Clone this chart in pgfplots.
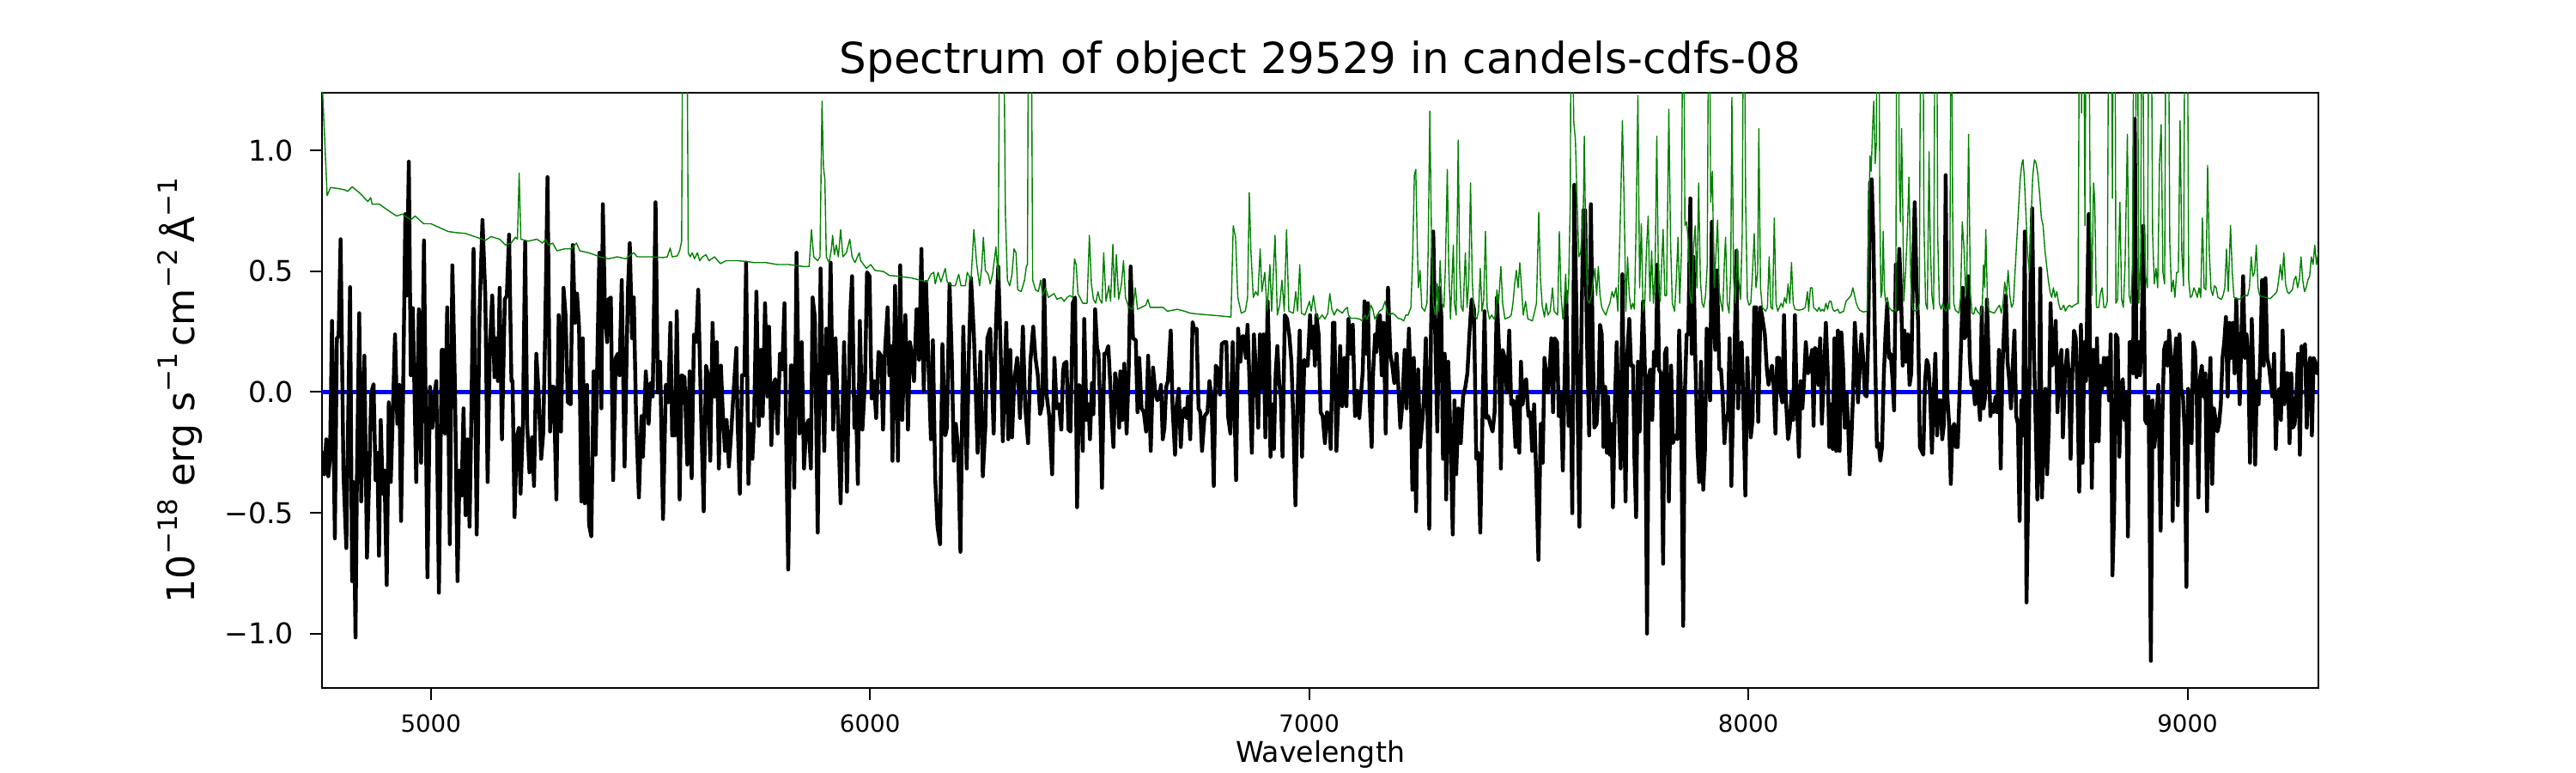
\documentclass[border=0pt]{standalone}
\usepackage{fontspec}
\setmainfont{DejaVu Sans}
\usepackage{pgfplots}
\pgfplotsset{compat=1.18}
\definecolor{mplgreen}{RGB}{0,128,0}
\definecolor{mplblue}{RGB}{0,0,255}
\newcommand\sups[1]{\raisebox{0.45em}{\fontsize{11.2}{12}\selectfont #1}}
\begin{document}
\begin{tikzpicture}
\path[use as bounding box] (0,0) rectangle (15in,4.5in);
\begin{axis}[
  at={(1.875in,0.495in)}, anchor=south west,
  width=11.625in, height=3.465in, scale only axis,
  xmin=4752.2, xmax=9298, ymin=-1.225, ymax=1.238,
  axis line style={line width=0.8pt},
  tick align=outside, major tick length=5.2pt,
  tick style={black, line width=0.8pt},
  xtick pos=bottom, ytick pos=left,
  xtick={5000,6000,7000,8000,9000}, xticklabels={5000,6000,7000,8000,9000},
  ytick={-1,-0.5,0,0.5,1}, yticklabels={−1.0,−0.5,0.0,0.5,1.0},
  minor tick num=0,
  xticklabel style={font=\fontsize{10}{12}\selectfont, inner sep=0pt, anchor=north, yshift=-5.9pt},
  yticklabel style={font=\fontsize{12}{14}\selectfont, inner sep=0pt, anchor=east, xshift=-6.5pt},
  title={Spectrum of object 29529 in candels-cdfs-08},
  every axis title/.style={at={(axis description cs:0.5,1)}, anchor=base, yshift=8.1pt, font=\fontsize{18}{22}\selectfont, inner sep=0pt},
  xlabel={Wavelength},
  every axis x label/.style={at={(axis description cs:0.5,0)}, anchor=base, yshift=-31.2pt, font=\fontsize{12}{14}\selectfont, inner sep=0pt},
  ylabel={10\sups{−18} erg s\sups{−1}\,cm\sups{−2}\,Å\sups{−1}},
  every axis y label/.style={at={(axis description cs:-0.0639,0.5)}, rotate=90, anchor=base, font=\fontsize{16}{19}\selectfont, inner sep=0pt},
]
\addplot[mplblue, line width=2pt] coordinates {(4752.2,0) (9298,0)};
\addplot[black, line width=1.6pt, line join=round] coordinates {
(4752.2,-0.244) (4757.4,-0.341) (4761.9,-0.196) (4766.5,-0.349) (4770.4,-0.277) (4775.0,0.294) (4781.5,-0.606) (4786.1,0.222) (4790.0,0.230) (4794.6,0.632) (4801.1,-0.341) (4807.6,-0.646) (4816.1,0.434) (4820.7,-0.783) (4823.9,-0.373) (4828.5,-1.016) (4831.8,-0.341) (4837.0,0.326) (4841.5,-0.453) (4848.7,0.150) (4854.6,-0.686) (4859.8,-0.341) (4864.4,-0.003) (4869.6,0.032) (4874.2,-0.365) (4878.1,-0.252) (4882.0,-0.678) (4885.9,-0.116) (4890.5,-0.421) (4894.4,-0.325) (4899.6,-0.799) (4904.2,-0.043) (4908.8,-0.373) (4912.0,-0.180) (4918.5,0.238) (4923.8,-0.132) (4928.3,0.029) (4932.2,-0.534) (4936.8,-0.019) (4942.0,0.736) (4945.3,0.399) (4949.9,0.953) (4954.4,0.069) (4959.0,0.347) (4966.8,-0.373) (4972.7,0.342) (4977.9,-0.293) (4984.4,0.627) (4992.3,-0.767) (4998.1,0.021) (5003.4,-0.148) (5008.6,-0.003) (5012.5,0.045) (5018.4,-0.831) (5024.9,0.174) (5027.5,0.174) (5032.1,-0.172) (5037.3,0.350) (5043.2,-0.630) (5049.0,0.524) (5054.9,0.029) (5060.8,-0.783) (5065.4,-0.325) (5069.9,-0.429) (5074.5,-0.068) (5079.1,-0.510) (5083.6,-0.196) (5088.2,-0.558) (5092.1,-0.116) (5097.3,0.592) (5104.5,-0.590) (5111.0,0.334) (5117.6,0.712) (5124.1,0.399) (5129.3,-0.373) (5134.5,0.190) (5139.8,0.399) (5145.0,0.061) (5148.9,0.222) (5152.8,0.045) (5156.7,0.431) (5161.9,-0.196) (5168.5,0.383) (5173.0,0.399) (5178.2,0.651) (5183.5,0.045) (5186.1,0.045) (5190.6,-0.518) (5195.9,-0.188) (5200.4,-0.148) (5204.3,-0.421) (5209.6,-0.140) (5214.8,0.621) (5219.3,-0.132) (5224.6,-0.333) (5230.4,-0.188) (5235.0,-0.389) (5240.2,0.158) (5245.4,-0.003) (5251.3,-0.277) (5255.9,-0.172) (5260.4,0.251) (5265.7,0.889) (5271.5,-0.164) (5276.1,0.021) (5280.0,0.021) (5285.9,-0.445) (5291.1,0.318) (5296.3,-0.164) (5302.2,0.431)
(5306.8,0.318) (5312.0,-0.043) (5318.5,-0.051) (5323.1,0.608) (5328.3,0.286) (5332.9,0.407) (5337.5,0.270) (5342.7,-0.453) (5346.0,0.222) (5350.5,-0.461) (5355.7,0.029) (5360.3,-0.550) (5365.5,-0.598) (5370.7,0.085) (5375.3,-0.260) (5378.6,0.085) (5383.8,0.576) (5388.4,-0.068) (5391.6,0.777) (5396.8,0.318) (5401.4,0.206) (5404.7,0.383) (5409.9,0.391) (5415.1,-0.365) (5421.0,0.141) (5425.6,0.158) (5429.5,0.069) (5434.7,0.463) (5441.2,-0.309) (5446.4,0.206) (5449.0,0.431) (5453.0,0.616) (5458.2,0.222) (5462.1,0.391) (5467.3,-0.100) (5473.8,-0.437) (5479.7,-0.100) (5483.0,-0.268) (5489.5,0.085) (5496.0,-0.132) (5499.9,0.037) (5505.2,-0.019) (5511.7,0.785) (5516.9,-0.003) (5522.1,0.125) (5528.7,-0.526) (5535.2,0.029) (5540.4,-0.043) (5545.6,0.286) (5549.5,-0.180) (5556.1,-0.180) (5560.0,0.334) (5566.5,-0.445) (5571.1,0.069) (5577.6,0.061) (5584.1,-0.301) (5589.3,0.085) (5593.9,-0.357) (5599.1,0.238) (5604.3,0.206) (5608.9,0.423) (5614.8,-0.051) (5621.3,-0.494) (5626.5,0.109) (5630.4,0.077) (5636.3,-0.285) (5641.5,0.286) (5646.1,-0.019) (5651.3,0.206) (5655.9,-0.317) (5660.5,0.109) (5664.4,-0.068) (5669.6,-0.244) (5673.5,-0.116) (5678.7,-0.309) (5684.0,-0.164) (5689.2,-0.003) (5695.7,0.182) (5698.3,-0.108) (5703.5,-0.421) (5708.7,0.069) (5714.0,0.069) (5717.9,0.535) (5723.1,-0.381) (5727.7,-0.132) (5732.2,-0.277) (5736.1,-0.116) (5741.4,0.415) (5746.6,-0.140) (5751.8,0.174) (5755.7,-0.100) (5761.0,0.367) (5766.2,-0.019) (5770.1,0.270) (5775.3,-0.220) (5779.9,0.029) (5784.4,0.053) (5789.7,-0.172) (5794.9,0.158) (5800.1,0.093) (5805.3,0.367) (5809.9,-0.293) (5813.8,-0.735) (5819.7,0.109) (5823.6,0.109) (5827.5,-0.397) (5832.7,0.576) (5839.2,-0.172) (5844.5,0.206) (5849.7,-0.317) (5854.9,-0.140) (5860.1,-0.116) (5865.3,-0.317) (5869.3,0.391)
(5874.4,0.310) (5880.9,-0.582) (5887.5,0.511) (5892.7,-0.019) (5895.9,-0.244) (5900.5,0.262) (5905.7,0.077) (5910.3,0.535) (5916.2,-0.156) (5921.4,0.222) (5926.6,-0.068) (5933.1,-0.461) (5941.0,0.206) (5947.5,-0.413) (5954.7,0.310) (5959.2,0.479) (5964.4,-0.148) (5967.7,-0.019) (5972.3,-0.381) (5976.8,0.294) (5982.7,-0.156) (5988.6,0.045) (5993.2,0.495) (5999.0,0.479) (6003.6,-0.027) (6008.8,0.045) (6014.0,-0.108) (6019.3,0.166) (6025.1,0.150) (6029.7,-0.156) (6034.3,0.174) (6040.1,0.350) (6044.1,0.069) (6048.0,0.190) (6051.2,-0.285) (6057.1,0.439) (6063.6,-0.285) (6068.8,0.524) (6073.4,-0.116) (6080.6,0.318) (6086.5,-0.156) (6091.0,0.206) (6094.9,0.158) (6100.2,0.045) (6106.0,0.342) (6111.9,0.133) (6117.1,0.592) (6122.4,0.005) (6127.6,0.455) (6134.1,0.061) (6138.7,-0.196) (6143.2,0.214) (6148.5,-0.357) (6153.7,-0.558) (6159.5,-0.630) (6164.8,0.198) (6171.3,-0.180) (6175.2,-0.148) (6181.1,0.447) (6186.3,0.141) (6190.9,-0.285) (6195.4,-0.132) (6200.7,-0.236) (6205.9,-0.662) (6212.4,0.270) (6220.2,-0.317) (6225.4,0.174) (6230.0,0.471) (6236.5,0.238) (6241.1,-0.019) (6245.0,-0.252) (6251.5,0.166) (6256.8,-0.349) (6262.6,-0.148) (6267.2,0.222) (6273.7,0.262) (6281.6,-0.172) (6286.8,0.278) (6292.0,0.519) (6297.2,0.190) (6302.4,-0.204) (6310.3,0.286) (6314.8,-0.196) (6319.4,0.174) (6323.3,-0.188) (6328.5,0.045) (6335.1,0.141) (6341.6,-0.108) (6348.1,0.270) (6353.3,-0.059) (6359.9,-0.212) (6365.1,0.125) (6371.6,0.270) (6376.8,0.141) (6382.1,0.069) (6387.3,-0.092) (6392.5,-0.051) (6396.4,0.463) (6401.6,-0.003) (6408.1,-0.100) (6414.7,-0.341) (6419.9,0.141) (6425.1,-0.068) (6430.3,-0.051) (6435.6,-0.156) (6439.5,0.085)
(6442.1,0.117) (6447.3,0.125) (6451.9,-0.156) (6456.5,-0.164) (6461.7,0.367) (6466.9,0.391) (6471.5,-0.477) (6476.0,0.029) (6480.0,0.013) (6484.5,-0.244) (6487.8,0.302) (6493.0,-0.116) (6497.6,-0.051) (6500.8,-0.196) (6505.4,0.037) (6508.7,-0.092) (6512.6,0.342) (6517.1,0.182) (6520.4,0.158) (6524.3,-0.084) (6528.2,-0.397) (6533.5,0.158) (6537.4,0.158) (6542.6,0.190) (6546.5,0.053) (6550.4,-0.108) (6554.3,-0.228) (6558.2,0.077) (6563.5,0.013) (6567.4,-0.148) (6570.0,0.085) (6574.6,-0.116) (6579.1,0.117) (6584.3,-0.172) (6588.9,0.077) (6593.5,0.519) (6598.7,0.222) (6605.2,0.214) (6609.1,-0.084) (6613.1,0.141) (6618.3,-0.068) (6623.5,-0.084) (6628.7,-0.164) (6633.3,0.150) (6639.2,-0.244) (6644.4,0.101) (6649.6,-0.003) (6654.2,-0.035) (6658.7,-0.019) (6662.6,0.029) (6666.6,-0.196) (6670.5,-0.148) (6674.4,0.021) (6678.3,0.045) (6684.8,0.254) (6689.0,-0.068) (6694.6,-0.260) (6698.5,-0.051) (6703.1,0.013) (6707.7,-0.228) (6711.6,-0.084) (6716.2,-0.068) (6720.7,-0.108) (6724.0,-0.019) (6729.2,-0.196) (6734.4,0.289) (6739.0,0.254) (6743.6,0.262) (6748.1,-0.068) (6752.0,-0.084) (6756.0,-0.244) (6761.8,-0.100) (6768.4,-0.084) (6772.9,0.045) (6777.5,-0.019) (6782.7,-0.389) (6787.3,0.109) (6792.5,0.093) (6797.1,-0.011) (6801.0,0.198) (6806.2,0.206) (6811.4,0.206) (6815.3,-0.100) (6820.6,-0.172) (6825.8,0.206) (6830.3,-0.092) (6833.6,-0.365) (6838.2,0.262) (6843.4,0.125) (6848.0,0.230) (6851.9,0.230) (6855.8,0.141) (6859.7,0.278) (6863.6,0.069) (6869.5,-0.252) (6874.1,0.238) (6879.3,0.069) (6883.9,-0.148) (6887.8,0.238) (6892.3,0.016) (6896.2,0.238) (6900.2,-0.188) (6905.4,0.375) (6908.6,0.158) (6911.9,-0.268) (6915.8,-0.051) (6919.7,-0.236) (6923.6,0.077) (6927.5,0.190) (6931.5,0.045) (6935.4,-0.019) (6939.3,-0.268) (6944.5,0.318) (6949.7,0.302) (6955.0,0.230) (6959.5,0.125) (6964.1,-0.132) (6968.7,-0.469) (6973.2,-0.051) (6978.5,0.254) (6983.7,-0.268) (6988.9,0.133) (6993.5,0.109) (6996.7,0.109) (7002.0,0.318) (7005.9,0.182)
(7009.8,0.270) (7013.1,0.109) (7016.3,0.318) (7021.5,0.238) (7026.1,-0.084) (7030.7,-0.100) (7035.9,-0.212) (7040.5,-0.084) (7045.7,-0.092) (7049.0,-0.236) (7054.2,0.286) (7057.4,0.286) (7062.0,-0.244) (7067.2,-0.003) (7070.5,0.190) (7075.1,-0.059) (7080.3,0.141) (7084.8,-0.059) (7089.4,0.302) (7094.6,0.158) (7099.2,0.278) (7104.4,-0.100) (7109.0,0.005) (7114.2,-0.108) (7117.5,-0.019) (7122.0,0.085) (7125.9,0.375) (7130.5,0.158) (7133.8,0.367) (7137.7,-0.035) (7142.3,-0.228) (7145.5,0.077) (7150.1,0.238) (7153.4,0.166) (7156.6,0.302) (7161.2,0.318) (7165.1,0.069) (7169.7,0.286) (7174.2,-0.172) (7179.5,0.431) (7184.7,0.158) (7189.2,0.109) (7193.8,0.037) (7199.0,0.158) (7202.9,0.029) (7207.5,-0.148) (7212.1,-0.051) (7217.3,0.174) (7221.9,-0.068) (7227.1,0.262) (7231.7,-0.019) (7234.9,-0.405) (7238.2,0.141) (7243.4,-0.494) (7248.0,0.093) (7252.5,-0.228) (7257.8,-0.116) (7261.0,-0.035) (7265.6,0.222) (7268.8,-0.027) (7273.4,-0.566) (7277.3,0.254) (7282.5,0.664) (7287.1,0.230) (7291.7,-0.164) (7296.9,0.431) (7300.8,0.318) (7304.7,-0.277) (7308.6,0.158) (7311.9,-0.445) (7316.5,0.125) (7321.7,-0.180) (7326.9,-0.590) (7330.8,-0.035) (7334.7,-0.341) (7340.0,-0.068) (7345.2,-0.212) (7350.4,-0.019) (7355.6,0.021) (7360.2,0.077) (7365.4,0.254) (7370.0,0.383) (7375.2,0.342) (7380.4,-0.277) (7385.0,-0.252) (7389.6,-0.582) (7394.8,-0.084) (7399.3,0.334) (7403.3,-0.108) (7407.8,-0.100) (7412.4,-0.132) (7417.6,-0.164) (7422.2,-0.084) (7427.4,0.391) (7432.0,0.190) (7436.5,-0.317) (7440.5,0.174) (7445.0,0.141) (7450.2,-0.003) (7455.5,0.254) (7460.0,-0.051) (7464.6,-0.035) (7469.8,-0.228) (7474.4,-0.019) (7478.3,-0.252) (7482.2,0.125) (7486.1,-0.051) (7490.0,0.029) (7494.0,0.053) (7499.2,-0.100) (7503.7,-0.084) (7507.7,-0.244) (7512.2,-0.051) (7516.8,-0.341) (7522.0,-0.695) (7527.2,-0.132) (7531.8,-0.293) (7535.7,0.141) (7539.6,0.077) (7543.5,-0.003) (7547.5,0.085) (7551.4,0.222) (7555.3,-0.084) (7559.2,0.222) (7564.4,0.206) (7568.4,-0.100) (7572.9,-0.003)
(7577.5,-0.325) (7580.8,-0.019) (7585.3,0.415) (7590.6,-0.140) (7595.8,-0.019) (7599.0,-0.502) (7603.6,0.857) (7608.8,0.302) (7611.4,-0.100) (7615.3,-0.558) (7619.9,0.270) (7624.5,0.752) (7628.4,0.752) (7632.3,0.238) (7637.5,-0.180) (7641.4,0.777) (7645.4,0.222) (7649.3,-0.148) (7654.5,-0.132) (7659.1,0.029) (7662.3,0.278) (7666.2,0.238) (7670.2,-0.228) (7674.1,0.021) (7678.0,-0.252) (7680.6,-0.019) (7684.5,-0.260) (7688.4,-0.132) (7691.7,-0.477) (7696.3,-0.035) (7700.2,0.206) (7704.7,-0.068) (7709.3,-0.317) (7713.2,0.487) (7716.5,-0.035) (7720.4,-0.453) (7724.3,0.158) (7728.9,0.302) (7732.8,0.109) (7737.4,0.109) (7740.6,-0.277) (7744.5,-0.518) (7748.5,0.125) (7752.4,-0.164) (7756.3,0.133) (7760.2,0.375) (7764.8,0.069) (7769.3,-1.000) (7773.3,0.061) (7776.5,0.093) (7781.1,-0.116) (7785.0,0.166) (7789.6,0.109) (7792.8,0.527) (7796.7,0.093) (7800.7,0.077) (7805.9,-0.711) (7809.8,0.158) (7813.7,0.182) (7818.9,-0.453) (7824.1,0.109) (7828.1,-0.212) (7833.3,-0.180) (7838.5,-0.196) (7842.4,0.254) (7846.3,0.013) (7851.6,-0.968) (7855.5,-0.003) (7859.4,0.238) (7863.3,0.238) (7867.9,0.801) (7871.1,0.158) (7875.0,0.559) (7879.0,0.158) (7884.2,-0.236) (7888.1,-0.373) (7892.0,0.125) (7897.2,-0.405) (7901.1,-0.244) (7905.1,0.262) (7909.0,0.109) (7912.9,-0.035) (7916.8,0.704) (7920.7,0.318) (7924.6,0.174) (7928.5,0.503) (7933.8,0.093) (7937.7,0.093) (7941.6,-0.019) (7945.5,-0.212) (7949.4,-0.100) (7953.3,-0.116) (7957.3,0.222) (7961.2,-0.389) (7965.1,-0.068) (7969.0,0.206) (7972.9,0.584) (7976.8,-0.068) (7980.7,0.190) (7984.7,0.206) (7988.6,-0.051) (7993.1,-0.429) (7997.7,0.141) (8001.6,-0.051) (8005.5,-0.188) (8009.5,-0.116) (8013.4,0.350) (8017.9,0.350) (8022.5,-0.124) (8027.7,0.350) (8032.3,0.302) (8037.5,0.238) (8042.1,0.093) (8046.0,0.029) (8049.9,0.077) (8053.8,0.109) (8057.7,0.021) (8061.7,-0.172) (8065.6,0.141) (8069.5,0.141) (8073.4,-0.003) (8077.3,-0.043) (8081.2,0.318) (8085.2,-0.019) (8090.4,-0.196) (8094.3,-0.148) (8098.2,-0.003) (8102.1,-0.116) (8106.0,0.318) (8109.9,-0.019) (8115.2,-0.268) (8119.1,0.045) (8123.0,-0.068) (8126.9,0.045) (8130.8,0.206) (8136.1,0.077) (8140.0,0.109)
(8145.2,0.174) (8148.5,-0.140) (8151.7,0.182) (8155.6,0.174) (8159.6,0.029) (8163.5,0.222) (8167.4,-0.132) (8171.3,0.045) (8176.5,0.286) (8181.1,0.061) (8184.4,-0.228) (8188.9,-0.051) (8192.2,-0.236) (8196.1,0.222) (8200.0,-0.244) (8203.9,0.254) (8207.8,-0.244) (8211.8,0.246) (8215.7,0.109) (8219.6,-0.148) (8223.5,-0.003) (8227.4,-0.148) (8230.7,-0.341) (8234.6,-0.196) (8238.5,-0.003) (8242.4,0.286) (8246.3,0.141) (8249.6,-0.043) (8253.5,0.093) (8257.4,0.238) (8261.3,0.141) (8265.3,-0.011) (8269.2,-0.019) (8273.1,0.238) (8277.0,0.865) (8280.9,0.881) (8284.8,0.624) (8288.8,0.141) (8292.7,-0.228) (8296.6,-0.212) (8300.5,-0.285) (8304.4,-0.228) (8308.3,0.061) (8312.2,0.238) (8316.2,0.367) (8320.1,0.141) (8324.0,0.158) (8327.9,0.061) (8331.8,-0.076) (8335.7,0.527) (8339.6,0.342) (8343.6,0.592) (8347.5,0.415) (8351.4,0.109) (8355.3,0.254) (8359.2,0.125) (8363.1,0.238) (8367.1,0.029) (8371.0,0.077) (8374.9,0.495) (8378.8,0.785) (8382.7,0.463) (8386.6,0.286) (8390.5,-0.228) (8394.5,-0.244) (8398.4,-0.260) (8402.3,0.045) (8406.2,0.133) (8410.1,0.109) (8414.0,-0.019) (8418.0,-0.252) (8421.9,-0.003) (8425.8,0.158) (8429.7,-0.180) (8433.6,-0.035) (8437.5,-0.035) (8441.4,-0.196) (8445.4,-0.132) (8449.3,0.897) (8453.2,-0.019) (8457.1,-0.132) (8461.0,-0.381) (8464.9,-0.148) (8468.8,-0.132) (8472.8,-0.228) (8476.7,-0.228) (8480.6,-0.019) (8484.5,0.206) (8488.4,0.431) (8492.3,0.222) (8496.3,0.238) (8500.2,0.479) (8504.1,0.141) (8508.0,0.029) (8511.9,0.045) (8515.8,-0.051) (8519.7,0.045) (8523.7,-0.019) (8527.6,-0.116) (8531.5,0.350) (8535.4,-0.068) (8539.3,-0.019) (8543.2,0.383) (8547.1,0.141) (8551.1,-0.100) (8555.0,-0.051) (8558.9,-0.084) (8562.8,-0.019) (8566.7,-0.084) (8570.6,0.174) (8574.6,-0.317) (8578.5,0.093) (8582.4,0.270) (8586.3,0.399) (8590.2,0.125) (8594.1,0.045) (8598.0,-0.068) (8602.0,0.109) (8605.9,0.254) (8609.8,-0.100) (8613.7,-0.132) (8617.6,-0.534) (8621.5,-0.035) (8625.4,-0.180) (8629.4,0.664) (8633.3,-0.871) (8638.5,-0.277) (8642.4,0.463) (8646.3,0.760) (8650.2,0.174) (8654.2,-0.132) (8658.1,-0.445) (8662.0,-0.003) (8664.6,0.511) (8668.5,-0.437) (8672.4,-0.180) (8676.3,0.013) (8680.3,-0.341) (8684.2,-0.132) (8688.1,0.367) (8692.0,0.109) (8695.9,0.141) (8699.8,0.294) (8703.8,-0.084) (8707.7,0.109)
(8712.9,0.174) (8716.2,-0.188) (8720.7,0.061) (8725.9,0.174) (8729.9,0.061) (8733.8,-0.277) (8737.7,0.077) (8741.6,0.254) (8745.5,0.222) (8749.4,-0.003) (8753.4,-0.413) (8757.3,0.278) (8761.2,-0.293) (8765.1,0.206) (8769.0,0.045) (8771.6,0.367) (8774.9,0.736) (8778.2,0.141) (8782.1,-0.397) (8786.0,0.174) (8789.9,-0.204) (8793.8,0.222) (8797.7,-0.204) (8801.6,0.109) (8805.6,0.013) (8809.5,0.141) (8813.4,0.029) (8817.3,0.141) (8821.2,-0.035) (8825.1,0.238) (8829.0,-0.759) (8833.0,-0.486) (8836.9,0.238) (8840.8,0.222) (8844.7,-0.268) (8848.6,0.013) (8852.5,0.053) (8856.5,-0.116) (8860.4,-0.003) (8864.3,-0.598) (8868.2,0.206) (8872.1,0.206) (8876.0,0.077) (8879.9,1.130) (8883.9,0.061) (8887.8,0.206) (8891.7,0.069) (8895.6,0.238) (8899.5,0.688) (8903.4,-0.116) (8907.3,-0.132) (8911.3,-0.019) (8916.5,-1.113) (8920.4,-0.035) (8924.3,-0.228) (8928.2,-0.148) (8933.4,0.029) (8938.7,-0.574) (8942.6,-0.116) (8946.5,0.174) (8950.4,0.206) (8954.3,0.109) (8958.2,0.254) (8962.2,0.141) (8966.1,-0.534) (8970.0,0.109) (8973.9,0.222) (8977.8,-0.469) (8981.7,0.238) (8985.6,0.013) (8989.6,-0.019) (8993.5,-0.164) (8997.4,-0.807) (9001.3,0.013) (9005.2,-0.051) (9009.1,-0.212) (9013.1,0.206) (9017.0,0.174) (9020.9,-0.019) (9024.8,-0.437) (9028.7,0.061) (9032.6,0.109) (9036.5,-0.019) (9040.5,0.077) (9044.4,-0.494) (9048.3,-0.019) (9052.2,0.141) (9056.1,-0.381) (9060.0,-0.068) (9064.0,-0.116) (9067.9,-0.164) (9071.8,-0.132) (9075.7,-0.051) (9079.6,0.141) (9083.5,0.206) (9087.4,0.310) (9091.4,-0.019) (9095.3,0.286) (9099.2,0.141) (9103.1,0.286) (9107.0,0.077) (9110.9,0.383) (9114.8,0.158) (9118.8,-0.051) (9122.7,0.238) (9126.6,0.479) (9130.5,0.141) (9134.4,0.238) (9138.3,0.141) (9142.2,-0.293) (9146.2,0.302) (9150.1,0.045) (9154.0,-0.301) (9157.9,0.045) (9161.8,-0.051) (9165.7,0.141) (9169.7,0.463) (9173.6,0.109) (9177.5,0.471) (9181.4,0.141) (9185.3,0.109) (9189.2,0.045) (9193.1,-0.019) (9197.1,0.158) (9201.0,-0.236) (9204.9,-0.019) (9208.8,0.013) (9212.7,-0.116) (9216.6,0.254) (9220.6,-0.051) (9224.5,0.077) (9228.4,0.077) (9232.3,-0.212) (9236.2,0.077) (9240.1,-0.148) (9244.0,-0.132) (9248.0,-0.003) (9251.9,0.158) (9255.8,-0.260) (9259.7,0.190) (9263.6,0.158) (9267.5,0.198) (9271.5,-0.148) (9275.4,0.093) (9279.3,0.141) (9283.2,-0.180) (9287.1,0.141) (9291.0,0.125) (9294.9,0.077) (9298.2,0.085)
};
\addplot[mplgreen, line width=0.5pt, line join=round] coordinates {
(4752.2,1.30) (4763.9,0.812) (4771.7,0.846) (4791.3,0.841) (4804.4,0.836) (4810.9,0.830) (4820.7,0.849) (4837.0,0.825) (4856.6,0.788) (4863.1,0.804) (4866.3,0.777) (4882.7,0.777) (4902.2,0.752) (4921.8,0.728) (4934.9,0.736) (4954.4,0.712) (4964.2,0.728) (4983.8,0.696) (5000.1,0.696) (5019.7,0.680) (5039.2,0.664) (5058.8,0.659) (5078.4,0.656) (5104.5,0.640) (5124.1,0.627) (5137.1,0.643) (5156.7,0.632) (5169.7,0.608) (5182.8,0.616) (5192.6,0.640) (5197.2,0.632) (5201.1,0.905) (5205.0,0.632) (5222.0,0.624) (5241.5,0.632) (5254.6,0.616) (5261.1,0.632) (5267.6,0.608) (5277.4,0.616) (5287.2,0.584) (5304.2,0.592)
(5319.9,0.592) (5331.6,0.616) (5339.4,0.584) (5359.0,0.576) (5372.1,0.568) (5385.1,0.559) (5404.7,0.551) (5424.3,0.559) (5443.8,0.551) (5462.1,0.576) (5469.9,0.559) (5502.6,0.559) (5528.7,0.556) (5538.4,0.559) (5545.0,0.595) (5549.5,0.559) (5561.3,0.563) (5566.5,0.584) (5571.1,0.624) (5574.3,2.0) (5582.2,2.0) (5586.1,0.576) (5590.6,0.559) (5595.2,0.576) (5600.4,0.551) (5607.0,0.576) (5612.2,0.543) (5618.7,0.559) (5626.5,0.568) (5633.1,0.543) (5646.1,0.559) (5659.2,0.531) (5672.2,0.543) (5698.3,0.543) (5717.9,0.540) (5737.5,0.535) (5763.6,0.535) (5789.7,0.527) (5815.8,0.527) (5848.4,0.519) (5861.4,0.519) (5866.7,0.672) (5871.9,0.559)
(5880.9,0.543) (5886.1,0.559) (5890.7,1.203) (5894.0,0.929) (5897.2,0.881) (5900.5,0.559) (5907.0,0.535) (5912.2,0.592) (5914.9,0.648) (5918.8,0.568) (5923.3,0.608) (5927.9,0.559) (5933.1,0.672) (5938.3,0.559) (5946.2,0.576) (5954.0,0.632) (5959.2,0.559) (5965.8,0.535) (5975.5,0.576) (5978.8,0.543) (5991.9,0.511) (6001.6,0.527) (6011.4,0.503) (6031.0,0.498) (6044.1,0.482) (6063.6,0.479) (6096.3,0.471) (6112.6,0.463) (6130.2,0.455) (6138.7,0.487) (6145.2,0.495) (6148.5,0.447) (6155.0,0.495) (6161.5,0.455) (6171.3,0.511) (6175.9,0.455) (6187.6,0.439) (6194.1,0.439) (6202.0,0.487) (6207.2,0.439) (6217.0,0.439) (6221.5,0.495) (6230.0,0.463) (6236.5,0.672) (6243.1,0.527) (6249.6,0.439) (6254.2,0.511) (6258.1,0.640) (6262.6,0.503) (6269.2,0.487) (6273.7,0.447) (6279.0,0.487) (6286.8,0.600) (6292.0,0.463) (6295.9,2.0) (6302.4,2.0) (6308.3,0.736) (6312.9,0.463) (6318.1,0.439) (6323.3,0.487) (6327.9,0.592) (6332.5,0.576) (6336.4,0.423) (6344.2,0.415) (6352.0,0.463) (6355.9,0.519) (6358.6,0.527) (6361.2,2.0) (6366.4,2.0) (6370.3,0.463) (6376.8,0.423) (6383.4,0.415) (6388.6,0.463) (6393.1,0.399) (6399.7,0.431) (6406.2,0.391) (6412.7,0.399) (6419.2,0.407) (6425.8,0.383) (6435.6,0.391)
(6442.1,0.375) (6448.6,0.391) (6455.2,0.399) (6461.7,0.391) (6465.6,0.551) (6469.5,0.527) (6473.4,0.407) (6478.0,0.391) (6484.5,0.367) (6494.3,0.367) (6499.5,0.648) (6504.1,0.447) (6508.7,0.383) (6513.9,0.367) (6519.1,0.415) (6523.0,0.383) (6528.2,0.367) (6532.1,0.576) (6537.4,0.375) (6543.9,0.439) (6547.8,0.375) (6553.0,0.611) (6556.9,0.391) (6560.9,0.568) (6566.1,0.383) (6572.6,0.447) (6577.2,0.543) (6581.7,0.391) (6588.9,0.350) (6598.7,0.342) (6603.9,0.431) (6609.1,0.342) (6628.1,0.359) (6632.6,0.383) (6637.9,0.350) (6667.2,0.350) (6677.0,0.334) (6699.8,0.342) (6716.2,0.334) (6729.2,0.326) (6748.8,0.322) (6774.9,0.318) (6794.5,0.315) (6821.9,0.310) (6827.1,0.688) (6832.3,0.640) (6837.5,0.391) (6845.4,0.326) (6854.5,0.334) (6859.7,0.391) (6863.6,0.825) (6867.5,0.576) (6872.8,0.391) (6878.0,0.415) (6883.2,0.399) (6888.4,0.592) (6892.3,0.415) (6898.9,0.495) (6904.1,0.334) (6910.6,0.527) (6914.5,0.334) (6922.3,0.648) (6927.5,0.318) (6932.8,0.359) (6938.0,0.463) (6943.2,0.334) (6948.4,0.672) (6953.7,0.334) (6964.1,0.326) (6969.3,0.415) (6973.6,0.334) (6978.5,0.527) (6982.4,0.326) (6990.2,0.318) (7000.7,0.375) (7004.6,0.334)
(7009.8,0.399) (7016.3,0.318) (7022.9,0.302) (7029.4,0.318) (7035.9,0.302) (7042.4,0.326) (7047.0,0.407) (7051.6,0.342) (7056.8,0.318) (7063.3,0.342) (7069.8,0.334) (7075.1,0.326) (7081.6,0.342) (7086.8,0.350) (7089.4,0.318) (7094.6,0.305) (7104.4,0.305) (7114.2,0.302) (7120.7,0.294) (7127.3,0.318) (7131.2,0.302) (7135.7,0.318) (7140.3,0.359) (7144.9,0.342) (7149.4,0.302) (7154.7,0.318) (7159.9,0.334) (7166.4,0.342) (7172.9,0.375) (7178.1,0.326) (7183.4,0.318) (7189.2,0.326) (7195.8,0.318) (7202.3,0.305) (7208.8,0.302) (7215.3,0.294) (7219.9,0.318) (7225.1,0.318) (7231.7,0.350) (7235.6,0.559) (7239.5,0.897) (7242.7,0.921) (7246.0,0.624) (7248.6,0.431) (7252.5,0.503) (7256.4,0.350) (7263.0,0.334) (7268.2,0.367) (7270.8,0.576) (7274.7,1.162) (7278.6,0.624) (7282.5,0.367) (7287.1,0.318) (7291.7,0.447) (7294.3,0.334) (7298.2,0.543) (7302.1,0.367) (7306.7,0.350) (7310.0,0.511) (7314.5,0.921) (7317.8,0.511) (7321.7,0.302) (7328.2,0.608) (7330.8,0.367) (7334.7,0.318) (7339.3,1.042) (7342.6,0.511) (7346.5,0.350) (7350.4,0.334) (7355.6,0.576) (7359.5,0.350) (7363.5,0.463) (7367.4,0.865) (7371.3,0.463) (7375.2,0.318) (7381.7,0.302) (7385.6,0.334) (7389.6,0.511) (7393.5,0.334) (7397.4,0.383) (7401.3,0.664) (7405.2,0.350) (7410.4,0.302) (7415.7,0.318) (7420.9,0.302) (7424.8,0.318) (7427.4,0.423) (7431.3,0.367) (7436.5,0.519) (7440.5,0.367) (7445.7,0.302) (7456.1,0.310) (7460.0,0.318) (7464.0,0.367) (7467.9,0.447) (7471.8,0.503) (7475.7,0.431) (7479.6,0.535) (7483.5,0.431) (7487.4,0.318) (7492.7,0.375) (7497.9,0.302) (7508.3,0.294) (7513.5,0.334) (7517.5,0.367) (7522.7,0.744) (7526.6,0.471) (7530.5,0.359) (7535.7,0.310) (7539.6,0.367) (7543.5,0.318) (7548.8,0.334) (7554.0,0.431) (7557.9,0.334) (7565.7,0.318) (7569.6,0.664) (7573.6,0.399)
(7577.5,0.302) (7580.8,0.367) (7584.0,0.487) (7586.6,0.367) (7590.6,0.431) (7594.5,0.785) (7597.1,2.0) (7602.3,1.122) (7606.2,1.042) (7610.1,0.785) (7614.0,0.559) (7618.0,0.576) (7621.9,0.672) (7624.5,0.785) (7626.4,1.058) (7629.7,0.624) (7633.6,0.383) (7637.5,0.367) (7642.8,0.399) (7646.7,0.463) (7650.6,0.511) (7654.5,0.399) (7658.4,0.519) (7662.3,0.399) (7666.2,0.350) (7670.2,0.334) (7675.4,0.318) (7679.3,0.342) (7684.5,0.367) (7689.7,0.415) (7693.6,0.391) (7698.9,0.431) (7702.8,0.334) (7705.4,0.511) (7709.3,0.785) (7713.2,1.122) (7717.1,0.785) (7721.1,0.334) (7725.0,0.559) (7728.9,0.399) (7732.8,0.342) (7736.7,0.367) (7740.6,0.342) (7744.5,0.704) (7748.5,1.227) (7752.4,0.431) (7756.3,0.696) (7760.2,0.334) (7764.1,0.367) (7768.0,0.592) (7771.9,0.728) (7775.9,0.375) (7779.8,0.584) (7783.7,0.367) (7787.6,0.495) (7791.5,1.058) (7795.4,0.431) (7799.4,0.375) (7803.3,0.559) (7805.9,0.672) (7809.8,0.399) (7813.7,0.399) (7818.9,1.170) (7822.8,0.624) (7826.8,0.367) (7832.0,0.334) (7835.9,0.463) (7839.8,0.640) (7843.7,0.367) (7847.6,0.576) (7851.6,2.0) (7855.5,0.688) (7859.4,0.704) (7863.3,0.624) (7867.2,0.399) (7871.1,0.367) (7875.0,0.592) (7879.0,0.688) (7882.9,0.431) (7886.8,0.865) (7890.7,0.463) (7894.6,0.367) (7898.5,0.350) (7902.5,0.399) (7906.4,0.527) (7910.3,2.0) (7914.2,0.785) (7918.1,0.913) (7922.0,0.431) (7925.9,0.559) (7929.9,0.712) (7933.8,0.415) (7937.7,0.367) (7941.6,0.334) (7945.5,0.543) (7948.1,0.640) (7952.0,0.367) (7956.0,0.326) (7959.9,0.495) (7962.5,1.219) (7966.4,0.463) (7970.3,0.367) (7974.2,0.592) (7978.1,0.463) (7982.1,0.383) (7986.0,0.656) (7989.9,2.0) (7993.8,0.785) (7997.7,0.383) (8001.6,0.359) (8005.5,0.367) (8009.5,0.495) (8013.4,0.656) (8017.3,0.431) (8021.2,0.495) (8023.8,1.090) (8027.7,0.431) (8031.6,0.350) (8039.5,0.334) (8043.4,0.350) (8047.3,0.559) (8051.2,0.350) (8055.1,0.342) (8059.0,0.720) (8063.0,0.367) (8066.9,0.334) (8074.7,0.367) (8078.6,0.350) (8082.5,0.391) (8086.5,0.367) (8090.4,0.447) (8094.3,0.367) (8098.2,0.535) (8102.1,0.367) (8106.0,0.342) (8113.9,0.338) (8124.3,0.342) (8129.5,0.350) (8134.7,0.415) (8137.4,0.334) (8141.3,0.431)
(8145.2,0.431) (8148.5,0.350) (8153.0,0.342) (8156.9,0.334) (8160.9,0.350) (8164.8,0.334) (8168.7,0.342) (8172.6,0.334) (8176.5,0.367) (8180.4,0.342) (8184.4,0.375) (8188.3,0.375) (8192.2,0.342) (8196.1,0.334) (8203.9,0.342) (8207.8,0.326) (8217.0,0.334) (8222.2,0.375) (8226.1,0.383) (8230.0,0.391) (8233.9,0.399) (8237.9,0.431) (8241.8,0.399) (8245.7,0.367) (8249.6,0.350) (8253.5,0.338) (8261.3,0.331) (8270.5,0.334) (8273.1,0.624) (8277.0,0.977) (8279.6,0.913) (8283.5,1.122) (8285.5,1.203) (8288.8,0.945) (8291.4,1.026) (8294.0,2.0) (8296.6,2.0) (8299.2,0.785) (8301.8,0.391) (8304.4,0.415) (8307.0,0.664) (8309.6,0.431) (8312.2,0.375) (8316.2,0.391) (8320.1,0.350) (8327.9,0.334) (8331.8,0.342) (8335.7,0.334) (8338.3,2.0) (8340.9,2.0) (8343.6,0.881) (8346.2,0.704) (8348.8,1.090) (8351.4,0.785) (8354.0,0.375) (8357.9,0.495) (8361.8,0.656) (8365.7,0.889) (8369.7,0.463) (8373.6,0.342) (8381.4,0.334) (8385.3,0.342) (8389.2,0.367) (8393.2,2.0) (8397.1,2.0) (8399.7,0.704) (8403.6,0.367) (8407.5,0.342) (8411.4,0.994) (8414.0,0.624) (8418.0,0.399) (8421.9,0.342) (8425.8,2.0) (8428.4,2.0) (8431.0,0.656) (8434.9,0.367) (8438.8,0.342) (8442.8,0.367) (8446.7,0.342) (8450.6,0.334) (8454.5,0.367) (8458.4,0.342) (8462.3,2.0) (8464.9,0.785) (8467.6,0.367) (8471.5,0.338) (8479.3,0.326) (8483.2,0.391) (8487.1,0.704) (8491.0,0.592) (8495.0,0.399) (8497.6,0.495) (8501.5,1.066) (8505.4,0.415) (8509.3,0.326) (8513.2,0.322) (8517.1,0.350) (8521.0,0.334) (8528.9,0.318) (8532.8,0.367) (8535.4,0.527) (8538.0,0.431) (8540.6,0.672) (8544.5,0.367) (8548.4,0.334) (8560.2,0.326) (8568.0,0.350) (8571.9,0.359) (8575.9,0.326) (8579.8,0.367) (8583.7,0.455) (8587.6,0.399) (8591.5,0.503) (8595.4,0.399) (8599.3,0.350) (8603.3,0.367) (8607.2,0.495) (8611.1,0.624) (8615.0,0.752) (8618.9,0.881) (8622.8,0.945) (8625.4,0.961) (8628.1,0.897) (8632.0,0.736) (8635.9,0.576) (8639.8,0.495) (8643.7,0.720) (8647.6,0.897) (8651.5,0.961) (8655.5,0.945) (8659.4,0.897) (8663.3,0.817) (8667.2,0.720) (8671.1,0.688) (8675.0,0.592) (8678.9,0.527) (8682.9,0.463) (8686.8,0.415) (8690.7,0.391) (8694.6,0.431) (8698.5,0.391) (8702.4,0.415) (8706.4,0.367) (8710.3,0.342)
(8712.9,0.342) (8718.1,0.359) (8722.0,0.334) (8726.0,0.350) (8731.2,0.359) (8736.4,0.350) (8741.6,0.359) (8750.7,0.367) (8754.7,2.0) (8758.6,1.154) (8762.5,2.0) (8766.4,0.688) (8770.3,2.0) (8774.2,2.0) (8778.2,0.785) (8782.1,0.399) (8786.0,0.865) (8788.6,0.801) (8792.5,0.350) (8797.7,0.350) (8801.6,0.407) (8805.6,0.431) (8809.5,0.350) (8813.4,0.350) (8817.3,0.375) (8821.2,2.0) (8825.1,2.0) (8829.0,0.801) (8831.7,2.0) (8834.3,2.0) (8836.9,0.367) (8840.8,0.383) (8846.0,0.785) (8849.9,0.383) (8853.8,0.350) (8857.8,0.527) (8863.0,1.066) (8866.9,0.399) (8870.8,0.367) (8874.7,0.527) (8878.6,2.0) (8882.5,1.138) (8885.2,2.0) (8889.1,0.367) (8893.0,0.527) (8896.9,2.0) (8900.8,0.688) (8904.7,0.479) (8908.7,0.431) (8912.6,2.0) (8916.5,2.0) (8920.4,0.656) (8924.3,0.447) (8928.2,0.511) (8932.1,0.431) (8936.1,0.945) (8940.0,1.106) (8943.9,0.495) (8947.8,0.447) (8951.7,2.0) (8955.6,2.0) (8959.5,0.624) (8963.5,0.415) (8967.4,0.463) (8971.3,0.391) (8975.2,0.495) (8979.1,0.495) (8983.0,1.122) (8987.0,0.576) (8990.9,0.439) (8994.8,2.0) (8998.7,2.0) (9002.6,0.463) (9006.5,0.391) (9010.4,0.399) (9014.4,0.431) (9018.3,0.415) (9022.2,0.391) (9026.1,0.431) (9030.0,0.391) (9033.9,0.720) (9037.8,0.431) (9041.8,0.423) (9045.7,0.937) (9049.6,0.576) (9053.5,0.423) (9057.4,0.399) (9061.3,0.439) (9065.3,0.431) (9069.2,0.391) (9077.0,0.383) (9080.9,0.399) (9084.8,0.431) (9088.7,0.592) (9092.7,0.415) (9097.9,0.688) (9101.8,0.495) (9105.7,0.391) (9117.5,0.383) (9129.2,0.399) (9137.0,0.399) (9140.9,0.431) (9144.9,0.559) (9148.8,0.479) (9152.7,0.495) (9156.6,0.608) (9160.5,0.431) (9164.4,0.399) (9176.2,0.391) (9187.9,0.386) (9195.7,0.399) (9199.7,0.407) (9203.6,0.415) (9207.5,0.463) (9211.4,0.527) (9215.3,0.463) (9219.2,0.576) (9223.2,0.447) (9227.1,0.415) (9231.0,0.407) (9238.8,0.423) (9242.7,0.463) (9246.6,0.479) (9250.6,0.431) (9254.5,0.463) (9258.4,0.559) (9262.3,0.463) (9266.2,0.415) (9270.1,0.431) (9274.0,0.463) (9278.0,0.479) (9281.9,0.559) (9285.8,0.527) (9289.7,0.608) (9293.6,0.527) (9297.5,0.576)
};
\end{axis}
\end{tikzpicture}
\end{document}
